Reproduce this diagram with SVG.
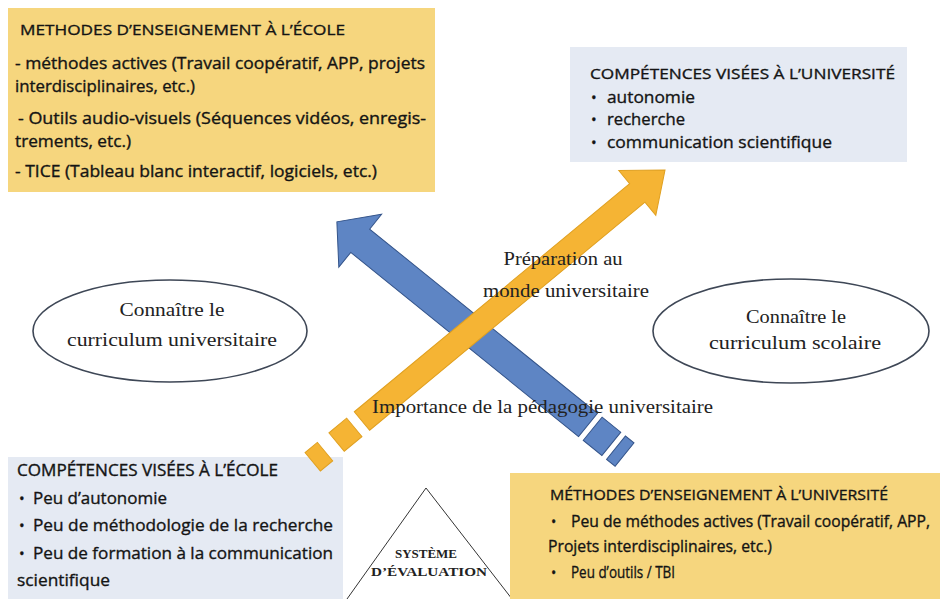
<svg xmlns="http://www.w3.org/2000/svg" width="940" height="599" viewBox="0 0 940 599">
  <style>
    .yb { fill: #F6D67E; }
    .bb { fill: #E5EAF3; }
    .t { font-family: "Open Sans", "Liberation Sans", sans-serif; fill: #141414; stroke: #141414; stroke-width: 0.35; }
    .h { font-size: 15px; }
    .s { font-family: "Liberation Serif", "Times New Roman", serif; fill: #222; }
    .ell { fill: #fff; stroke: #3e4756; stroke-width: 1.6; }
    .blue { fill: #5E85C4; stroke: #34548a; stroke-width: 1; }
    .yel { fill: #F5B434; stroke: #E0A020; stroke-width: 1; }
    .tri { fill: none; stroke: #333; stroke-width: 1; }
  </style>

  <rect width="940" height="599" fill="#fff"/>

  <!-- Triangle -->
  <g id="systeme-evaluation">
    <path class="tri" d="M347,599 L426,488 L512,599"/>
    <text class="s" x="426" y="558" font-size="12" font-weight="bold" text-anchor="middle" textLength="62" lengthAdjust="spacingAndGlyphs">SYSTÈME</text>
    <text class="s" x="429" y="576" font-size="12" font-weight="bold" text-anchor="middle" textLength="116" lengthAdjust="spacingAndGlyphs">D’ÉVALUATION</text>
  </g>

  <!-- Top-left box -->
  <g id="methodes-ecole">
    <rect class="yb" x="8" y="8" width="427" height="184"/>
    <text class="t h" x="20" y="35" textLength="325" lengthAdjust="spacingAndGlyphs">METHODES D’ENSEIGNEMENT À L’ÉCOLE</text>
    <text class="t" x="15" y="69" font-size="16" textLength="410" lengthAdjust="spacingAndGlyphs">- méthodes actives (Travail coopératif, APP,  projets</text>
    <text class="t" x="15" y="92" font-size="16" textLength="180" lengthAdjust="spacingAndGlyphs">interdisciplinaires, etc.)</text>
    <text class="t" x="18" y="124" font-size="16" textLength="408" lengthAdjust="spacingAndGlyphs"> - Outils audio-visuels (Séquences vidéos, enregis-</text>
    <text class="t" x="15" y="147" font-size="16" textLength="116" lengthAdjust="spacingAndGlyphs">trements, etc.)</text>
    <text class="t" x="15" y="177" font-size="16" textLength="362" lengthAdjust="spacingAndGlyphs">- TICE (Tableau blanc interactif, logiciels, etc.)</text>
  </g>

  <!-- Top-right box -->
  <g id="competences-universite">
    <rect class="bb" x="570" y="47" width="337" height="115"/>
    <text class="t h" x="590" y="79" textLength="305" lengthAdjust="spacingAndGlyphs">COMPÉTENCES VISÉES À L’UNIVERSITÉ</text>
    <text class="t" x="591" y="103" font-size="15">•</text>
    <text class="t" x="607" y="103" font-size="17" textLength="88" lengthAdjust="spacingAndGlyphs">autonomie</text>
    <text class="t" x="591" y="125" font-size="15">•</text>
    <text class="t" x="607" y="125" font-size="17" textLength="78" lengthAdjust="spacingAndGlyphs">recherche</text>
    <text class="t" x="591" y="148" font-size="15">•</text>
    <text class="t" x="607" y="148" font-size="17" textLength="225" lengthAdjust="spacingAndGlyphs">communication scientifique</text>
  </g>

  <!-- Ellipses -->
  <g id="curriculum-universitaire">
    <ellipse class="ell" cx="170" cy="331" rx="137" ry="51"/>
    <text class="s" x="172" y="316" font-size="19" text-anchor="middle" textLength="105" lengthAdjust="spacingAndGlyphs">Connaître le</text>
    <text class="s" x="172" y="346" font-size="19" text-anchor="middle" textLength="210" lengthAdjust="spacingAndGlyphs">curriculum universitaire</text>
  </g>
  <g id="curriculum-scolaire">
    <ellipse class="ell" cx="791" cy="331" rx="138" ry="52"/>
    <text class="s" x="796" y="323" font-size="19" text-anchor="middle" textLength="100" lengthAdjust="spacingAndGlyphs">Connaître le</text>
    <text class="s" x="795" y="349" font-size="19" text-anchor="middle" textLength="172" lengthAdjust="spacingAndGlyphs">curriculum scolaire</text>
  </g>

  <!-- Bottom-left box -->
  <g id="competences-ecole">
    <rect class="bb" x="8" y="457" width="335" height="142"/>
    <text class="t" x="17" y="476" font-size="15.5" textLength="261" lengthAdjust="spacingAndGlyphs">COMPÉTENCES VISÉES À L’ÉCOLE</text>
    <text class="t" x="19" y="504" font-size="15">•</text>
    <text class="t" x="33" y="504" font-size="17" textLength="134" lengthAdjust="spacingAndGlyphs">Peu d’autonomie</text>
    <text class="t" x="19" y="531" font-size="15">•</text>
    <text class="t" x="33" y="531" font-size="17" textLength="300" lengthAdjust="spacingAndGlyphs">Peu de méthodologie de la recherche</text>
    <text class="t" x="19" y="559" font-size="15">•</text>
    <text class="t" x="33" y="559" font-size="17" textLength="300" lengthAdjust="spacingAndGlyphs">Peu de formation à la communication</text>
    <text class="t" x="17" y="586" font-size="17" textLength="93" lengthAdjust="spacingAndGlyphs">scientifique</text>
  </g>

  <!-- Bottom-right box -->
  <g id="methodes-universite">
    <rect class="yb" x="510" y="473" width="430" height="126"/>
    <text class="t h" x="550" y="500" textLength="338" lengthAdjust="spacingAndGlyphs">MÉTHODES D’ENSEIGNEMENT À L’UNIVERSITÉ</text>
    <text class="t" x="551" y="527" font-size="14">•</text>
    <text class="t" x="571" y="527" font-size="16" textLength="359" lengthAdjust="spacingAndGlyphs">Peu de méthodes actives (Travail coopératif, APP,</text>
    <text class="t" x="548" y="552" font-size="16" textLength="224" lengthAdjust="spacingAndGlyphs">Projets interdisciplinaires, etc.)</text>
    <text class="t" x="551" y="578" font-size="14">•</text>
    <text class="t" x="571" y="578" font-size="16.5" textLength="104" lengthAdjust="spacingAndGlyphs">Peu d’outils / TBI</text>
  </g>

  <!-- Connectors (arrows) -->
  <g id="connectors">
    <g id="arrow-pedagogie" transform="translate(588,425) rotate(-141.03)">
      <path class="blue" d="M0,-15 L293,-15 L293,-34 L323,0 L293,34 L293,15 L0,15 Z"/>
      <rect class="blue" x="-30" y="-15" width="24" height="30"/>
      <rect class="blue" x="-47" y="-15" width="11" height="30"/>
    </g>
    <g id="arrow-preparation" transform="translate(362,421) rotate(-39.64)">
      <path class="yel" d="M0,-12 L357.5,-12 L357.5,-29 L393.5,0 L357.5,29 L357.5,12 L0,12 Z"/>
      <rect class="yel" x="-33" y="-12" width="23" height="24"/>
      <rect class="yel" x="-64" y="-12" width="16" height="24"/>
    </g>
  </g>

  <!-- Arrow labels -->
  <g id="label-preparation">
    <text class="s" x="563" y="265" font-size="19" text-anchor="middle" textLength="119" lengthAdjust="spacingAndGlyphs">Préparation au</text>
    <text class="s" x="566" y="297" font-size="19" text-anchor="middle" textLength="166" lengthAdjust="spacingAndGlyphs">monde universitaire</text>
  </g>
  <g id="label-importance">
    <text class="s" x="372" y="413" font-size="19" textLength="341" lengthAdjust="spacingAndGlyphs">Importance de la pédagogie universitaire</text>
  </g>
</svg>
